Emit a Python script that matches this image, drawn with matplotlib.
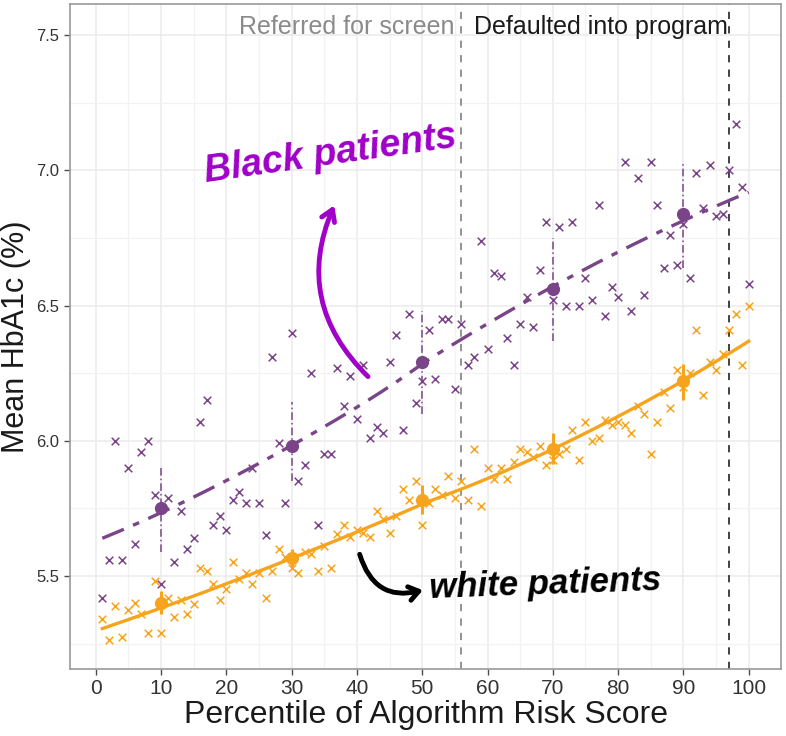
import numpy as np
import matplotlib.pyplot as plt
from matplotlib.patches import FancyArrowPatch

plt.rcParams['font.family'] = ['Liberation Sans', 'DejaVu Sans']

# percentiles 1..100
pct = list(range(1, 101))

black_y = [5.42, 5.56, 6.00, 5.56, 5.90, 5.62, 5.96, 6.00, 5.80, 5.47,
           5.79, 5.55, 5.74, 5.60, 5.64, 6.07, 6.15, 5.69, 5.72, 5.67,
           5.78, 5.81, 5.77, 5.90, 5.77, 5.65, 6.31, 5.99, 5.77, 6.40,
           5.85, 5.91, 6.25, 5.69, 5.95, 5.95, 6.27, 6.13, 6.24, 6.08,
           6.28, 6.01, 6.05, 6.03, 6.29, 6.39, 6.04, 6.47, 6.14, 6.22,
           6.41, 6.23, 6.45, 6.45, 6.19, 6.43, 6.28, 6.31, 6.74, 6.34,
           6.62, 6.61, 6.38, 6.28, 6.43, 6.53, 6.42, 6.63, 6.81, 6.52,
           6.79, 6.50, 6.81, 6.50, 6.60, 6.52, 6.87, 6.46, 6.57, 6.53,
           7.03, 6.48, 6.97, 6.54, 7.03, 6.87, 6.64, 6.76, 6.65, 6.80,
           6.60, 6.99, 6.86, 7.02, 6.83, 6.84, 7.00, 7.17, 6.94, 6.58]

white_y = [5.34, 5.265, 5.39, 5.275, 5.375, 5.40, 5.36, 5.29, 5.48, 5.29,
           5.42, 5.35, 5.41, 5.36, 5.395, 5.53, 5.52, 5.47, 5.41, 5.45,
           5.55, 5.49, 5.51, 5.47, 5.51, 5.42, 5.52, 5.60, 5.57, 5.53,
           5.51, 5.59, 5.58, 5.52, 5.61, 5.53, 5.655, 5.69, 5.645, 5.67,
           5.66, 5.645, 5.74, 5.71, 5.66, 5.72, 5.82, 5.78, 5.85, 5.69,
           5.77, 5.82, 5.80, 5.87, 5.79, 5.85, 5.78, 5.97, 5.76, 5.90,
           5.86, 5.90, 5.86, 5.92, 5.97, 5.96, 5.94, 5.98, 5.91, 5.93,
           5.95, 5.97, 6.04, 5.93, 6.07, 6.00, 6.01, 6.075, 6.06, 6.07,
           6.06, 6.03, 6.13, 6.10, 5.95, 6.07, 6.18, 6.12, 6.26, 6.20,
           6.25, 6.41, 6.17, 6.29, 6.26, 6.32, 6.41, 6.47, 6.28, 6.50]

# binned means with error bars
bin_x = [10, 30, 50, 70, 90]
black_mean = [5.75, 5.98, 6.29, 6.56, 6.84]
black_lo = [5.59, 5.85, 6.10, 6.37, 6.64]
black_hi = [5.905, 6.145, 6.48, 6.75, 7.03]
white_mean = [5.40, 5.565, 5.78, 5.97, 6.22]
white_lo = [5.36, 5.525, 5.73, 5.915, 6.15]
white_hi = [5.445, 5.60, 5.835, 6.03, 6.285]

purple = '#7a4488'
orange = '#f7a41d'


def loess(x, y, xs, span=1.0):
    # local quadratic regression with tricube weights
    x = np.asarray(x, float)
    y = np.asarray(y, float)
    k = min(int(np.ceil(span * len(x))), len(x))
    out = []
    for x0 in xs:
        d = np.abs(x - x0)
        h = np.sort(d)[k - 1] * max(span, 1.0) * 1.0001
        w = np.clip(1 - (d / h) ** 3, 0, 1) ** 3
        c = np.polyfit(x, y, 2, w=np.sqrt(w))
        out.append(np.polyval(c, x0))
    return np.array(out)


fig = plt.figure(figsize=(7.86, 7.36), dpi=100)
ax = fig.add_axes([70 / 786, 1 - 669 / 736, 711 / 786, 665 / 736])

# smooth fits
xs = np.linspace(1, 100, 200)
ax.plot(xs, loess(pct, black_y, xs), color=purple, lw=2.4, dashes=(7, 3, 2, 3), zorder=3)
ax.plot(xs, loess(pct, white_y, xs), color=orange, lw=2.4, zorder=3)

# scatter
ax.scatter(pct, black_y, marker='x', s=30, color=purple, linewidths=1.1, zorder=4)
ax.scatter(pct, white_y, marker='x', s=30, color=orange, linewidths=1.1, zorder=4)

# error bars
ax.vlines(bin_x, black_lo, black_hi, color=purple, lw=1.1, linestyles=(0, (5, 2, 1, 2)), zorder=4)
ax.vlines(bin_x, white_lo, white_hi, color=orange, lw=2.2, zorder=4)
ax.plot(bin_x, black_mean, 'o', color=purple, ms=8.5, zorder=5)
ax.plot(bin_x, white_mean, 'o', color=orange, ms=8.5, zorder=5)

# thresholds
ax.axvline(56, color='#8a8a8a', lw=1.3, dashes=(4, 4), zorder=2)
ax.axvline(97, color='#333333', lw=1.3, dashes=(4, 4), zorder=2)
ax.text(55, 7.53, 'Referred for screen', color='#8a8a8a', fontsize=18,
        ha='right', va='center')
ax.text(58, 7.53, 'Defaulted into program', color='#1a1a1a', fontsize=18,
        ha='left', va='center')

# hand-drawn annotations
ax.text(36.0, 7.06, 'Black patients', color='#a000c8', fontsize=27,
        style='italic', fontweight='bold', rotation=8, ha='center', va='center')
ax.add_patch(FancyArrowPatch((42.0, 6.23), (36.7, 6.88), connectionstyle='arc3,rad=-0.35',
                             arrowstyle='->,head_length=8,head_width=5', color='#a000c8',
                             lw=3.5, zorder=6))
ax.text(68.8, 5.47, 'white patients', color='black', fontsize=25,
        style='italic', fontweight='bold', rotation=2, ha='center', va='center')
ax.add_patch(FancyArrowPatch((40.3, 5.59), (50.5, 5.45), connectionstyle='arc3,rad=0.5',
                             arrowstyle='->,head_length=7,head_width=5', color='black',
                             lw=3.5, zorder=6))

ax.set_xlim(-3.95, 104.95)
ax.set_ylim(5.156, 7.615)
ax.set_xticks(range(0, 101, 10))
ax.set_xticks(range(5, 100, 10), minor=True)
ax.set_yticks([5.5, 6.0, 6.5, 7.0, 7.5])
ax.set_yticklabels(['5.5', '6.0', '6.5', '7.0', '7.5'])
ax.set_yticks([5.25, 5.75, 6.25, 6.75, 7.25], minor=True)
ax.grid(which='major', color='#ebebeb', lw=1.1, zorder=0)
ax.grid(which='minor', color='#f2f2f2', lw=0.9, zorder=0)
ax.set_axisbelow(True)
ax.tick_params(axis='both', which='major', labelsize=15, colors='#4d4d4d',
               length=4, width=1, labelcolor='#333333')
ax.tick_params(axis='y', labelsize=12)
ax.tick_params(which='minor', length=0)
for s in ax.spines.values():
    s.set_color('#999999')
    s.set_linewidth(1.2)

ax.set_xlabel('Percentile of Algorithm Risk Score', fontsize=23, color='#1a1a1a', labelpad=1)
ax.set_ylabel('Mean HbA1c (%)', fontsize=22, color='#1a1a1a')
ax.yaxis.set_label_coords(-0.055, 0.5)

plt.savefig('out.png', dpi=100)
